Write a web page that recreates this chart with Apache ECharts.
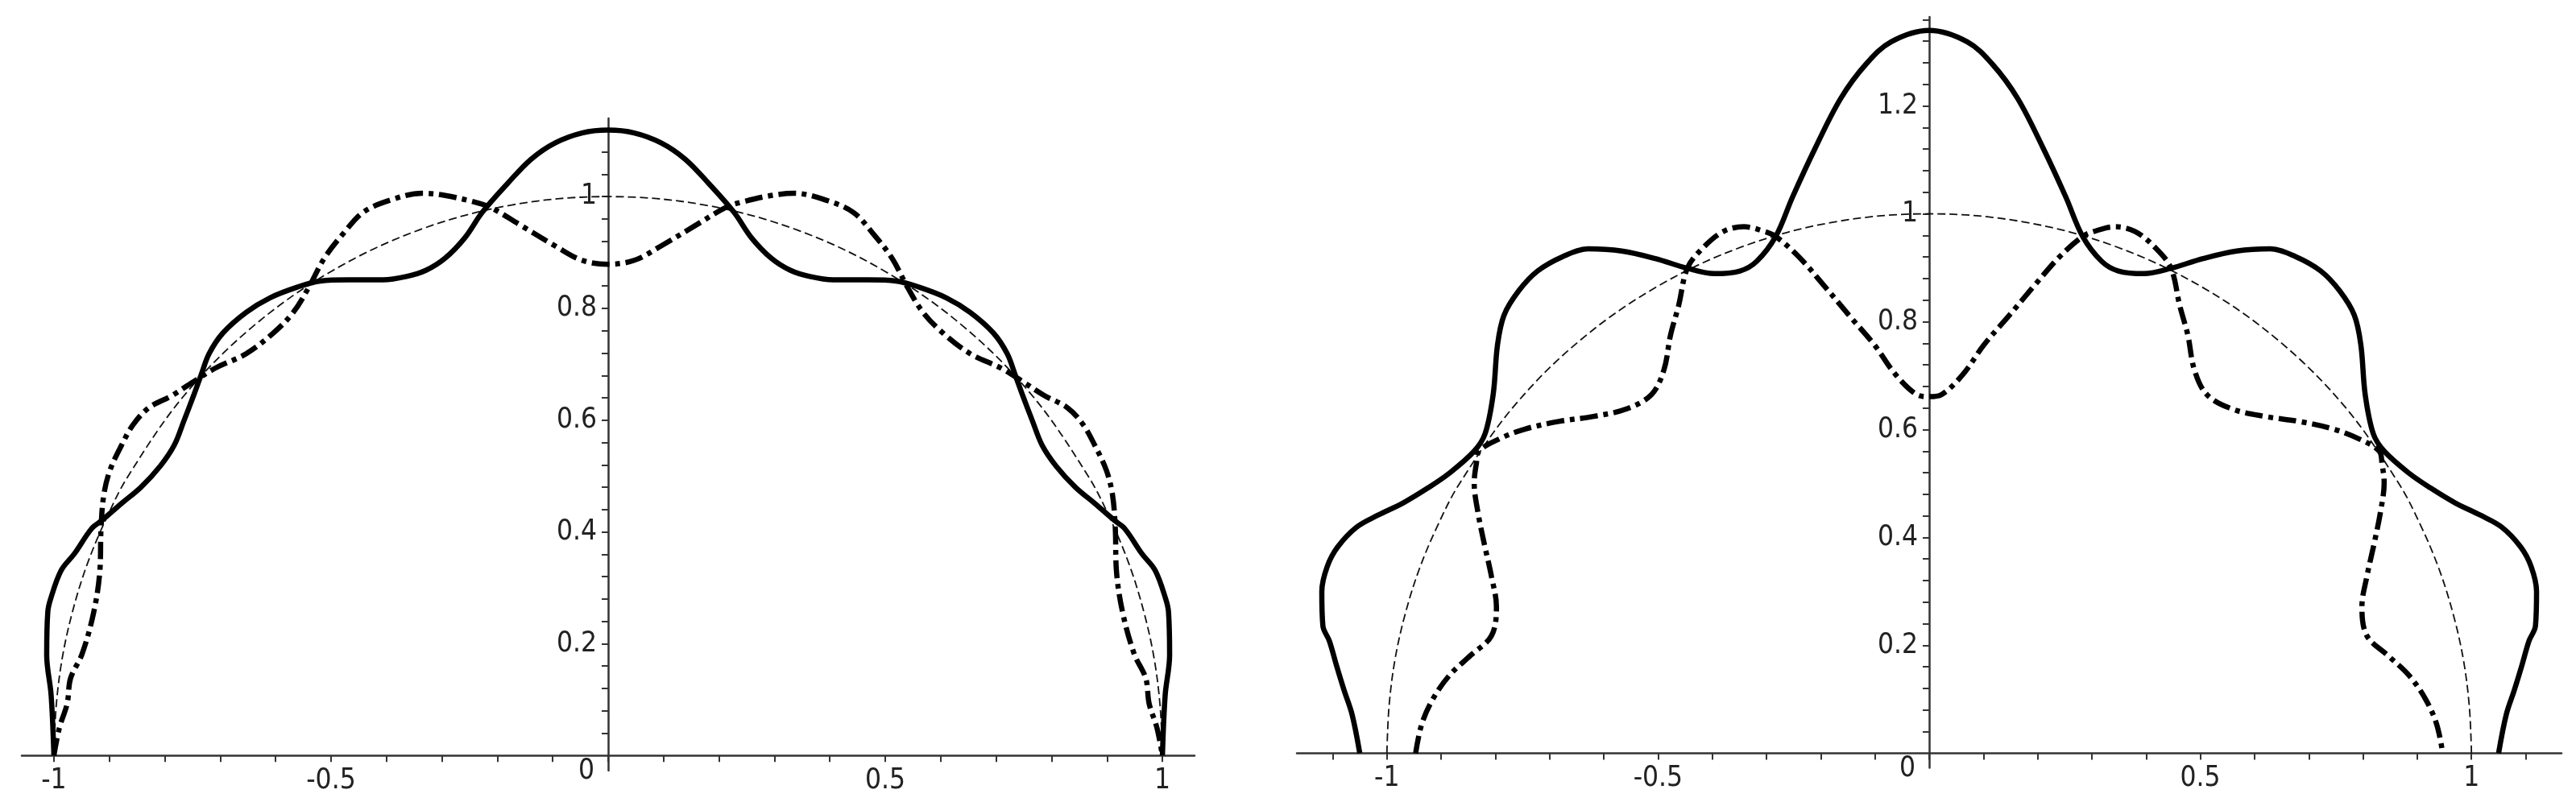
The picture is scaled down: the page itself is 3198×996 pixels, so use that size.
<!DOCTYPE html>
<html>
<head>
<meta charset="utf-8">
<title>curves</title>
<script src="https://cdn.jsdelivr.net/npm/echarts@6.0.0/dist/echarts.min.js"></script>
<style>
    html, body { margin: 0; padding: 0; background: #fff; }
    #main { width: 3198px; height: 996px; }
</style>
</head>
<body>
<div id="main"></div>
<script>
// left plot
var leftSolid = [
    [-1.000, 0.000], [-1.005, 0.108], [-1.013, 0.180], [-1.011, 0.257], [-1.006, 0.280],
    [-0.987, 0.331], [-0.963, 0.361], [-0.932, 0.406], [-0.913, 0.421], [-0.878, 0.451],
    [-0.843, 0.480], [-0.808, 0.518], [-0.783, 0.555], [-0.765, 0.600], [-0.748, 0.644],
    [-0.734, 0.682], [-0.720, 0.719], [-0.695, 0.756], [-0.653, 0.793], [-0.610, 0.819],
    [-0.561, 0.838], [-0.519, 0.849], [-0.470, 0.851], [-0.406, 0.851], [-0.364, 0.857],
    [-0.329, 0.868], [-0.294, 0.890], [-0.258, 0.927], [-0.227, 0.972], [-0.181, 1.024],
    [-0.139, 1.067], [-0.096, 1.096], [-0.047, 1.114], [0.000, 1.119],
    [0.047, 1.114], [0.096, 1.096], [0.139, 1.067], [0.181, 1.024], [0.227, 0.972],
    [0.258, 0.927], [0.294, 0.890], [0.329, 0.868], [0.364, 0.857], [0.406, 0.851],
    [0.470, 0.851], [0.519, 0.849], [0.561, 0.838], [0.610, 0.819], [0.653, 0.793],
    [0.695, 0.756], [0.720, 0.719], [0.734, 0.682], [0.748, 0.644], [0.765, 0.600],
    [0.783, 0.555], [0.808, 0.518], [0.843, 0.480], [0.878, 0.451], [0.913, 0.421],
    [0.932, 0.406], [0.963, 0.361], [0.987, 0.331], [1.006, 0.280], [1.011, 0.257],
    [1.013, 0.180], [1.005, 0.108], [1.000, 0.000]
];
var leftDashDot = [
    [-1.000, 0.000], [-0.990, 0.050], [-0.976, 0.093], [-0.970, 0.138], [-0.949, 0.182],
    [-0.928, 0.257], [-0.917, 0.331], [-0.915, 0.406], [-0.910, 0.466], [-0.899, 0.510],
    [-0.878, 0.555], [-0.857, 0.592], [-0.829, 0.622], [-0.787, 0.644], [-0.751, 0.667],
    [-0.709, 0.693], [-0.653, 0.719], [-0.604, 0.756], [-0.568, 0.793], [-0.540, 0.838],
    [-0.512, 0.890], [-0.477, 0.935], [-0.442, 0.972], [-0.392, 0.994], [-0.336, 1.006],
    [-0.294, 1.002], [-0.244, 0.991], [-0.213, 0.981], [-0.160, 0.950], [-0.096, 0.912],
    [-0.047, 0.886], [0.000, 0.879],
    [0.047, 0.886], [0.096, 0.912], [0.160, 0.950], [0.213, 0.981], [0.244, 0.991],
    [0.294, 1.002], [0.336, 1.006], [0.392, 0.994], [0.442, 0.972], [0.477, 0.935],
    [0.512, 0.890], [0.540, 0.838], [0.568, 0.793], [0.604, 0.756], [0.653, 0.719],
    [0.709, 0.693], [0.751, 0.667], [0.787, 0.644], [0.829, 0.622], [0.857, 0.592],
    [0.878, 0.555], [0.899, 0.510], [0.910, 0.466], [0.915, 0.406], [0.917, 0.331],
    [0.928, 0.257], [0.949, 0.182], [0.970, 0.138], [0.976, 0.093], [0.990, 0.050],
    [1.000, 0.000]
];
// unit half circle, same in both plots
var halfCircle = [
    [-1.000, 0.000], [-0.996, 0.087], [-0.985, 0.174], [-0.966, 0.259], [-0.940, 0.342],
    [-0.906, 0.423], [-0.866, 0.500], [-0.766, 0.643], [-0.643, 0.766], [-0.500, 0.866],
    [-0.342, 0.940], [-0.174, 0.985], [0.000, 1.000], [0.174, 0.985], [0.342, 0.940],
    [0.500, 0.866], [0.643, 0.766], [0.766, 0.643], [0.866, 0.500], [0.906, 0.423],
    [0.940, 0.342], [0.966, 0.259], [0.985, 0.174], [0.996, 0.087], [1.000, 0.000]
];
// right plot
var rightSolid = [
    [-1.050, 0.000], [-1.064, 0.071], [-1.079, 0.117], [-1.093, 0.163], [-1.106, 0.208],
    [-1.118, 0.236], [-1.120, 0.300], [-1.110, 0.346], [-1.091, 0.382], [-1.056, 0.419],
    [-1.017, 0.441], [-0.970, 0.464], [-0.924, 0.492], [-0.885, 0.519], [-0.839, 0.560],
    [-0.819, 0.592], [-0.804, 0.665], [-0.796, 0.757], [-0.784, 0.812], [-0.757, 0.857],
    [-0.722, 0.894], [-0.675, 0.921], [-0.629, 0.935], [-0.567, 0.931], [-0.505, 0.917],
    [-0.446, 0.899], [-0.396, 0.889], [-0.349, 0.894], [-0.318, 0.912], [-0.283, 0.958],
    [-0.252, 1.031], [-0.210, 1.122], [-0.163, 1.214], [-0.116, 1.278], [-0.070, 1.319],
    [0.000, 1.340],
    [0.070, 1.319], [0.116, 1.278], [0.163, 1.214], [0.210, 1.122], [0.252, 1.031],
    [0.283, 0.958], [0.318, 0.912], [0.349, 0.894], [0.396, 0.889], [0.446, 0.899],
    [0.505, 0.917], [0.567, 0.931], [0.629, 0.935], [0.675, 0.921], [0.722, 0.894],
    [0.757, 0.857], [0.784, 0.812], [0.796, 0.757], [0.804, 0.665], [0.819, 0.592],
    [0.839, 0.560], [0.885, 0.519], [0.924, 0.492], [0.970, 0.464], [1.017, 0.441],
    [1.056, 0.419], [1.091, 0.382], [1.110, 0.346], [1.120, 0.300], [1.118, 0.236],
    [1.106, 0.208], [1.093, 0.163], [1.079, 0.117], [1.064, 0.071], [1.050, 0.000]
];
var rightDashDot = [
    [-0.947, 0.000], [-0.936, 0.053], [-0.916, 0.099], [-0.885, 0.144], [-0.846, 0.181],
    [-0.807, 0.218], [-0.798, 0.272], [-0.807, 0.327], [-0.821, 0.391], [-0.832, 0.446],
    [-0.839, 0.501], [-0.835, 0.537], [-0.830, 0.560], [-0.792, 0.583], [-0.745, 0.601],
    [-0.683, 0.615], [-0.621, 0.624], [-0.559, 0.638], [-0.512, 0.665], [-0.489, 0.711],
    [-0.477, 0.775], [-0.462, 0.830], [-0.446, 0.899], [-0.419, 0.935], [-0.380, 0.967],
    [-0.342, 0.976], [-0.303, 0.967], [-0.283, 0.958], [-0.241, 0.921], [-0.194, 0.867],
    [-0.148, 0.812], [-0.101, 0.757], [-0.062, 0.702], [-0.023, 0.665], [0.000, 0.661],
    [0.023, 0.665], [0.062, 0.702], [0.101, 0.757], [0.148, 0.812], [0.194, 0.867],
    [0.241, 0.921], [0.283, 0.958], [0.303, 0.967], [0.342, 0.976], [0.380, 0.967],
    [0.419, 0.935], [0.446, 0.899], [0.462, 0.830], [0.477, 0.775], [0.489, 0.711],
    [0.512, 0.665], [0.559, 0.638], [0.621, 0.624], [0.683, 0.615], [0.745, 0.601],
    [0.792, 0.583], [0.830, 0.560], [0.835, 0.537], [0.839, 0.501], [0.832, 0.446],
    [0.821, 0.391], [0.807, 0.327], [0.798, 0.272], [0.807, 0.218], [0.846, 0.181],
    [0.885, 0.144], [0.916, 0.099], [0.936, 0.053], [0.947, 0.000]
];

// tick labels
var xLabels = [-1, -0.5, 0, 0.5, 1];
var yLabelsLeft = [0.2, 0.4, 0.6, 0.8, 1];
var yLabelsRight = [0.2, 0.4, 0.6, 0.8, 1, 1.2];

var FONT = '"Liberation Sans Narrow", "DejaVu Sans Condensed", "Arial Narrow", sans-serif';
var AXIS_COLOR = '#333';
var Y_BELOW = -0.027; // y axis line runs a little under the x axis

// small tick marks between from and to
function steps(from, to, step) {
    var out = [];
    var n = Math.round((to - from) / step);
    for (var i = 0; i <= n; i++) {
        out.push(Math.round((from + i * step) * 1000) / 1000);
    }
    return out;
}

// xOffset: pixels to lift the x axis up to y = 0
function makeX(gridIndex, min, max, ticks, xOffset) {
    return {
        type: 'value',
        gridIndex: gridIndex,
        position: 'bottom',
        offset: xOffset,
        min: min,
        max: max,
        splitLine: { show: false },
        axisLine: { onZero: false, lineStyle: { color: AXIS_COLOR, width: 2.5 } },
        axisTick: { show: true, length: 8, customValues: ticks, lineStyle: { color: AXIS_COLOR, width: 2 } },
        axisLabel: {
            margin: 2,
            customValues: xLabels,
            formatter: function (v) {
                if (v === 0) return '{z|0}';
                return '{n|' + v + '}';
            },
            rich: {
                z: { fontFamily: FONT, fontSize: 35, color: '#222', padding: [0, 54, 0, 0] },
                n: { fontFamily: FONT, fontSize: 35, color: '#222', padding: [12, 0, 0, 0] }
            }
        }
    };
}

// yOffset: pixels to move the y axis right to x = 0
function makeY(gridIndex, max, ticks, labels, yOffset) {
    return {
        type: 'value',
        gridIndex: gridIndex,
        position: 'left',
        offset: yOffset,
        min: Y_BELOW,
        max: max,
        splitLine: { show: false },
        axisLine: { onZero: false, lineStyle: { color: AXIS_COLOR, width: 2.5 } },
        axisTick: { show: true, length: 8, customValues: ticks, lineStyle: { color: AXIS_COLOR, width: 2 } },
        axisLabel: {
            margin: 14,
            customValues: labels,
            fontFamily: FONT,
            fontSize: 35,
            color: '#222',
            formatter: function (v) {
                return String(Math.round(v * 100) / 100);
            }
        }
    };
}

function curve(name, data, idx, kind) {
    var style;
    if (kind === 'solid') {
        style = { color: '#000', width: 6.5, type: 'solid' };
    } else if (kind === 'dashdot') {
        style = { color: '#000', width: 6.5, type: [22, 7, 6, 7], cap: 'butt' };
    } else {
        style = { color: '#111', width: 1.8, type: [10, 5] };
    }
    return {
        name: name,
        type: 'line',
        xAxisIndex: idx,
        yAxisIndex: idx,
        data: data,
        showSymbol: false,
        symbol: 'none',
        smooth: 0.35,
        lineStyle: style,
        z: kind === 'circle' ? 3 : 4
    };
}

function pageReady() {
    var myChart = echarts.init(document.getElementById('main'), null, { renderer: 'canvas' });
    var g1 = { left: 27, top: 147, width: 1456, height: 810, xMin: -1.058, xMax: 1.058, yMax: 1.14 };
    var g2 = { left: 1610, top: 21, width: 1570, height: 932.5, xMin: -1.166, xMax: 1.166, yMax: 1.365 };
    // where x = 0 and y = 0 fall inside each grid
    function yOff(g) { return -g.width * (0 - g.xMin) / (g.xMax - g.xMin); }
    function xOff(g) { return -g.height * (0 - Y_BELOW) / (g.yMax - Y_BELOW); }

    var option = {
        backgroundColor: '#fff',
        animation: false,
        grid: [
            { left: g1.left, top: g1.top, width: g1.width, height: g1.height, outerBoundsMode: 'none' },
            { left: g2.left, top: g2.top, width: g2.width, height: g2.height, outerBoundsMode: 'none' }
        ],
        xAxis: [
            makeX(0, g1.xMin, g1.xMax, steps(-1, 1, 0.1), xOff(g1)),
            makeX(1, g2.xMin, g2.xMax, steps(-1.1, 1.1, 0.1), xOff(g2))
        ],
        yAxis: [
            makeY(0, g1.yMax, steps(0.04, 1.12, 0.04), yLabelsLeft, yOff(g1)),
            makeY(1, g2.yMax, steps(0.04, 1.36, 0.04), yLabelsRight, yOff(g2))
        ],
        series: [
            curve('circleL', halfCircle, 0, 'circle'),
            curve('dashdotL', leftDashDot, 0, 'dashdot'),
            curve('solidL', leftSolid, 0, 'solid'),
            curve('circleR', halfCircle, 1, 'circle'),
            curve('dashdotR', rightDashDot, 1, 'dashdot'),
            curve('solidR', rightSolid, 1, 'solid')
        ]
    };
    myChart.setOption(option);
}

pageReady();
</script>
</body>
</html>
